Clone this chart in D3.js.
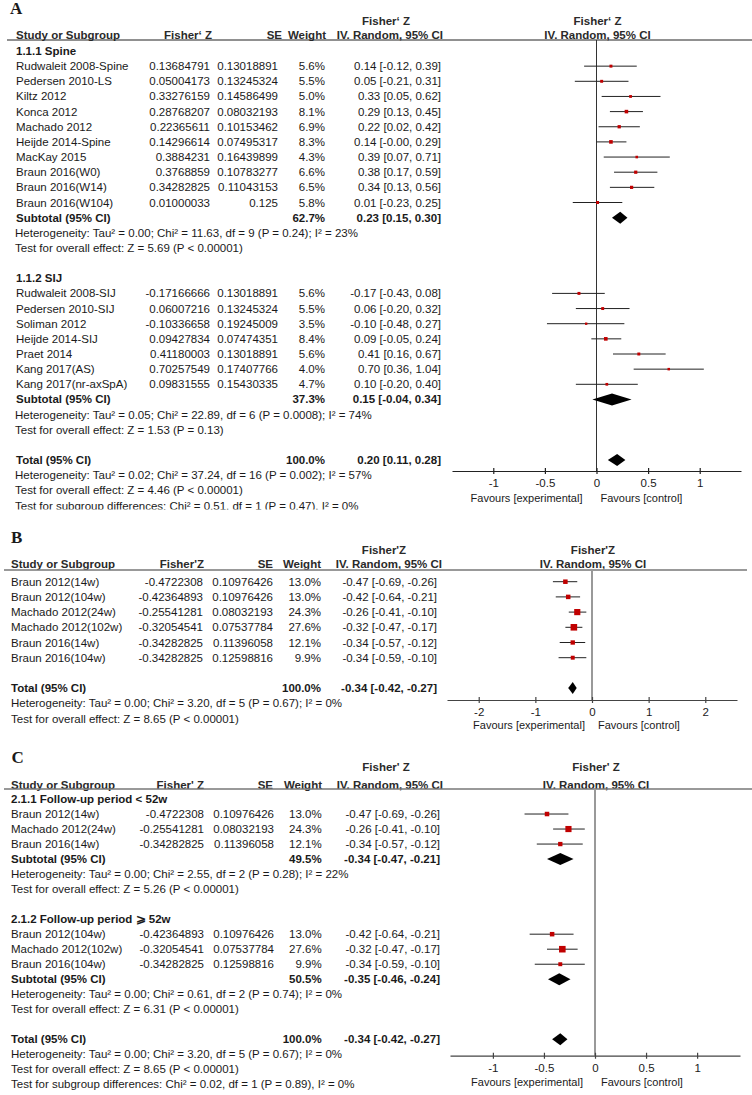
<!DOCTYPE html>
<html>
<head>
<meta charset="utf-8">
<script src="https://cdn.jsdelivr.net/npm/d3@7/dist/d3.min.js"></script>
<style>
  body { margin: 0; background: #fff; }
  svg { display: block; }
  text { font-family: "Liberation Sans", Arial, sans-serif; font-size: 11.5px; fill: #1a1a1a; }
  .b { font-weight: bold; }
  .plabel { font-family: "Liberation Serif", "Times New Roman", serif; font-size: 17px; font-weight: bold; }
</style>
</head>
<body>
<script>
// ---- Panel A : 1.1.1 Spine ----
const spineNames = ["Rudwaleit 2008-Spine", "Pedersen 2010-LS", "Kiltz 2012", "Konca 2012", "Machado 2012",
  "Heijde 2014-Spine", "MacKay 2015", "Braun 2016(W0)", "Braun 2016(W14)", "Braun 2016(W104)"];
const spineZ = ["0.13684791", "0.05004173", "0.33276159", "0.28768207", "0.22365611",
  "0.14296614", "0.3884231", "0.3768859", "0.34282825", "0.01000033"];
const spineSE = ["0.13018891", "0.13245324", "0.14586499", "0.08032193", "0.10153462",
  "0.07495317", "0.16439899", "0.10783277", "0.11043153", "0.125"];
const spineWeight = [5.6, 5.5, 5.0, 8.1, 6.9, 8.3, 4.3, 6.6, 6.5, 5.8];
const spineEst = [0.14, 0.05, 0.33, 0.29, 0.22, 0.14, 0.39, 0.38, 0.34, 0.01];
const spineLo = [-0.12, -0.21, 0.05, 0.13, 0.02, -0.00, 0.07, 0.17, 0.13, -0.23];
const spineHi = [0.39, 0.31, 0.62, 0.45, 0.42, 0.29, 0.71, 0.59, 0.56, 0.25];
const spinePooled = [62.7, 0.23, 0.15, 0.30];
const spineNotes = ["Heterogeneity: Tau² = 0.00; Chi² = 11.63, df = 9 (P = 0.24); I² = 23%",
  "Test for overall effect: Z = 5.69 (P < 0.00001)"];

// ---- Panel A : 1.1.2 SIJ ----
const sijNames = ["Rudwaleit 2008-SIJ", "Pedersen 2010-SIJ", "Soliman 2012", "Heijde 2014-SIJ",
  "Praet 2014", "Kang 2017(AS)", "Kang 2017(nr-axSpA)"];
const sijZ = ["-0.17166666", "0.06007216", "-0.10336658", "0.09427834", "0.41180003", "0.70257549", "0.09831555"];
const sijSE = ["0.13018891", "0.13245324", "0.19245009", "0.07474351", "0.13018891", "0.17407766", "0.15430335"];
const sijWeight = [5.6, 5.5, 3.5, 8.4, 5.6, 4.0, 4.7];
const sijEst = [-0.17, 0.06, -0.10, 0.09, 0.41, 0.70, 0.10];
const sijLo = [-0.43, -0.20, -0.48, -0.05, 0.16, 0.36, -0.20];
const sijHi = [0.08, 0.32, 0.27, 0.24, 0.67, 1.04, 0.40];
const sijPooled = [37.3, 0.15, -0.04, 0.34];
const sijNotes = ["Heterogeneity: Tau² = 0.05; Chi² = 22.89, df = 6 (P = 0.0008); I² = 74%",
  "Test for overall effect: Z = 1.53 (P = 0.13)"];

const totalAPooled = [100.0, 0.20, 0.11, 0.28];
const totalANotes = ["Heterogeneity: Tau² = 0.02; Chi² = 37.24, df = 16 (P = 0.002); I² = 57%",
  "Test for overall effect: Z = 4.46 (P < 0.00001)",
  "Test for subgroup differences: Chi² = 0.51, df = 1 (P = 0.47), I² = 0%"];

// ---- Panel B / C : follow-up studies ----
const fuNames = ["Braun 2012(14w)", "Braun 2012(104w)", "Machado 2012(24w)", "Machado 2012(102w)",
  "Braun 2016(14w)", "Braun 2016(104w)"];
const fuZ = ["-0.4722308", "-0.42364893", "-0.25541281", "-0.32054541", "-0.34282825", "-0.34282825"];
const fuSE = ["0.10976426", "0.10976426", "0.08032193", "0.07537784", "0.11396058", "0.12598816"];
const fuWeight = [13.0, 13.0, 24.3, 27.6, 12.1, 9.9];
const fuEst = [-0.47, -0.42, -0.26, -0.32, -0.34, -0.34];
const fuLo = [-0.69, -0.64, -0.41, -0.47, -0.57, -0.59];
const fuHi = [-0.26, -0.21, -0.10, -0.17, -0.12, -0.10];
const fuTotalPooled = [100.0, -0.34, -0.42, -0.27];
const fuTotalNotes = ["Heterogeneity: Tau² = 0.00; Chi² = 3.20, df = 5 (P = 0.67); I² = 0%",
  "Test for overall effect: Z = 8.65 (P < 0.00001)"];

// panel C subgroups (indices into the follow-up arrays)
const shortIdx = [0, 2, 4];
const longIdx = [1, 3, 5];
const shortPooled = [49.5, -0.34, -0.47, -0.21];
const shortNotes = ["Heterogeneity: Tau² = 0.00; Chi² = 2.55, df = 2 (P = 0.28); I² = 22%",
  "Test for overall effect: Z = 5.26 (P < 0.00001)"];
const longPooled = [50.5, -0.35, -0.46, -0.24];
const longNotes = ["Heterogeneity: Tau² = 0.00; Chi² = 0.61, df = 2 (P = 0.74); I² = 0%",
  "Test for overall effect: Z = 6.31 (P < 0.00001)"];
const subgroupNoteC = "Test for subgroup differences: Chi² = 0.02, df = 1 (P = 0.89), I² = 0%";

const ticksA = [-1, -0.5, 0, 0.5, 1];
const ticksB = [-2, -1, 0, 1, 2];
const ticksC = [-1, -0.5, 0, 0.5, 1];

// ---------------------------------------------------------------
const width = 752, height = 1095;

const svg = d3.select("body").append("svg")
  .attr("width", width)
  .attr("height", height);
const defs = svg.append("defs");

// -0.00 keeps its sign, like RevMan prints it
const fmt2 = v => ((v < 0 || Object.is(v, -0)) ? "-" : "") + Math.abs(v).toFixed(2);
const ciText = (e, l, h) => `${fmt2(e)} [${fmt2(l)}, ${fmt2(h)}]`;

function studies(names, z, se, w, est, lo, hi, idx) {
  idx = idx || names.map((d, i) => i);
  return idx.map(i => ({ type: "study", name: names[i], z: z[i], se: se[i], w: w[i], est: est[i], lo: lo[i], hi: hi[i] }));
}
const pooled = (label, p) => ({ type: "pooled", name: label, w: p[0], est: p[1], lo: p[2], hi: p[3] });
const notes = arr => arr.map(t => ({ type: "note", name: t }));
const blank = { type: "blank" };
const group = t => ({ type: "group", name: t });

const rowsA = [
  group("1.1.1 Spine"),
  ...studies(spineNames, spineZ, spineSE, spineWeight, spineEst, spineLo, spineHi),
  pooled("Subtotal (95% CI)", spinePooled),
  ...notes(spineNotes),
  blank,
  group("1.1.2 SIJ"),
  ...studies(sijNames, sijZ, sijSE, sijWeight, sijEst, sijLo, sijHi),
  pooled("Subtotal (95% CI)", sijPooled),
  ...notes(sijNotes),
  blank,
  pooled("Total (95% CI)", totalAPooled),
  ...notes(totalANotes)
];

const rowsB = [
  ...studies(fuNames, fuZ, fuSE, fuWeight, fuEst, fuLo, fuHi),
  blank,
  pooled("Total (95% CI)", fuTotalPooled),
  ...notes(fuTotalNotes)
];

const rowsC = [
  group("2.1.1 Follow-up period < 52w"),
  ...studies(fuNames, fuZ, fuSE, fuWeight, fuEst, fuLo, fuHi, shortIdx),
  pooled("Subtotal (95% CI)", shortPooled),
  ...notes(shortNotes),
  blank,
  group("2.1.2 Follow-up period \u2A7E 52w"),
  ...studies(fuNames, fuZ, fuSE, fuWeight, fuEst, fuLo, fuHi, longIdx),
  pooled("Subtotal (95% CI)", longPooled),
  ...notes(longNotes),
  blank,
  pooled("Total (95% CI)", fuTotalPooled),
  ...notes(fuTotalNotes),
  { type: "note", name: subgroupNoteC }
];

function drawPanel(p) {
  defs.append("clipPath").attr("id", p.id + "-clip")
    .append("rect").attr("x", 0).attr("y", p.clip[0]).attr("width", width).attr("height", p.clip[1] - p.clip[0]);
  const g = svg.append("g").attr("clip-path", `url(#${p.id}-clip)`);

  const x = d3.scaleLinear().domain(p.domain).range(p.range);
  const y = i => p.rowY0 + i * p.rowDy;
  const c = p.cols;

  g.append("text").attr("class", "plabel").attr("x", p.labelPos[0]).attr("y", p.labelPos[1]).text(p.label);

  // header
  const hdr = (txt, xx, yy, anchor) => g.append("text").attr("class", "b")
    .attr("x", xx).attr("y", yy).attr("dominant-baseline", "central")
    .attr("text-anchor", anchor).style("fill", "#2a2a2a").text(txt);
  hdr("Study or Subgroup", c.name, p.hdrY[1], "start");
  hdr(p.zTitle, c.zHdr, p.hdrY[1], "end");
  hdr("SE", c.seHdr, p.hdrY[1], "end");
  hdr("Weight", c.wHdr, p.hdrY[1], "end");
  hdr(p.zTitle, c.ciMid, p.hdrY[0], "middle");
  hdr("IV. Random, 95% CI", c.ciHdr, p.hdrY[1], "end");
  hdr(p.zTitle, x(0) + 1, p.hdrY[0], "middle");
  hdr("IV. Random, 95% CI", x(0) + 1, p.hdrY[1], "middle");

  g.append("line").attr("x1", p.ruleX[0]).attr("x2", p.ruleX[1])
    .attr("y1", p.ruleY).attr("y2", p.ruleY)
    .attr("stroke", p.ruleColor).attr("stroke-width", p.ruleWidth);

  // zero line
  g.append("line").attr("x1", x(0)).attr("x2", x(0))
    .attr("y1", p.ruleY).attr("y2", p.axisY)
    .attr("stroke", p.zeroColor).attr("stroke-width", p.zeroWidth);

  p.rows.forEach((r, i) => {
    const yy = y(i);
    if (r.type === "blank") return;
    const t = (txt, xx, anchor, bold) => g.append("text")
      .attr("class", bold ? "b" : null)
      .attr("x", xx).attr("y", yy).attr("dominant-baseline", "central")
      .attr("text-anchor", anchor).text(txt);

    if (r.type === "group") { t(r.name, c.name, "start", true); return; }
    if (r.type === "note") { t(r.name, c.note, "start", false); return; }

    const bold = r.type === "pooled";
    t(r.name, c.name, "start", bold);
    if (r.type === "study") {
      t(r.z, c.z, "end", false);
      t(r.se, c.se, "end", false);
    }
    t(r.w.toFixed(1) + "%", c.w, "end", bold);
    t(ciText(r.est, r.lo, r.hi), c.ci, "end", bold);

    if (r.type === "study") {
      g.append("line").attr("x1", x(r.lo)).attr("x2", x(r.hi))
        .attr("y1", yy).attr("y2", yy)
        .attr("stroke", "#222").attr("stroke-width", 1);
      const s = 1.25 * Math.sqrt(r.w);
      g.append("rect").attr("x", x(r.est) - s / 2).attr("y", yy - s / 2)
        .attr("width", s).attr("height", s).attr("fill", "#c00000");
    } else {
      const hh = 6;
      g.append("polygon")
        .attr("points", [[x(r.lo), yy], [x(r.est), yy - hh], [x(r.hi), yy], [x(r.est), yy + hh]].join(" "))
        .attr("fill", "#000");
    }
  });

  // axis
  const ax = g.append("g").attr("transform", `translate(0,${p.axisY})`)
    .call(d3.axisBottom(x).tickValues(p.ticks).tickFormat(d => String(d)).tickSizeInner(3).tickSizeOuter(0));
  ax.select(".domain").attr("stroke", p.axisColor).attr("stroke-width", 1.2);
  ax.selectAll(".tick line").attr("y1", -3).attr("y2", 3).attr("stroke", p.axisColor).attr("stroke-width", 1.2);
  ax.selectAll(".tick text").attr("y", p.tickLabelDy).attr("dy", "0.35em")
    .style("font-family", "'Liberation Sans', Arial, sans-serif").style("font-size", "11.5px").style("fill", "#1a1a1a");

  g.append("text").attr("x", x(0) + p.favOffset[0]).attr("y", p.axisY + p.favDy)
    .attr("dominant-baseline", "central").attr("text-anchor", "end")
    .style("font-size", "11px").text("Favours [experimental]");
  g.append("text").attr("x", x(0) + p.favOffset[1]).attr("y", p.axisY + p.favDy)
    .attr("dominant-baseline", "central").attr("text-anchor", "start")
    .style("font-size", "11px").text("Favours [control]");
}

drawPanel({
  id: "A", label: "A", labelPos: [10, 13.5], clip: [0, 509.5],
  rows: rowsA, rowY0: 51, rowDy: 15.15,
  zTitle: "Fisher\u2018 Z", hdrY: [20.6, 35], ruleY: 40, ruleX: [7, 752], ruleColor: "#222", ruleWidth: 1,
  cols: { name: 16, note: 15, z: 210, se: 278, w: 325, ci: 441, zHdr: 212, seHdr: 282, wHdr: 326, ciHdr: 443, ciMid: 386 },
  domain: [-1.4, 1.4], range: [452, 741], ticks: ticksA,
  axisY: 471, axisColor: "#222", zeroColor: "#333", zeroWidth: 1,
  tickLabelDy: 12, favDy: 27, favOffset: [-14, 4]
});

drawPanel({
  id: "B", label: "B", labelPos: [11, 542.7], clip: [512, 745],
  rows: rowsB, rowY0: 581.7, rowDy: 15.2,
  zTitle: "Fisher'Z", hdrY: [550, 564.3], ruleY: 570, ruleX: [4, 747], ruleColor: "#777", ruleWidth: 1.5,
  cols: { name: 11, note: 11, z: 203, se: 273, w: 321, ci: 437, zHdr: 204, seHdr: 273, wHdr: 321, ciHdr: 442, ciMid: 384 },
  domain: [-2.56, 2.56], range: [447, 737], ticks: ticksB,
  axisY: 700, axisColor: "#444", zeroColor: "#999", zeroWidth: 2,
  tickLabelDy: 11.7, favDy: 25, favOffset: [-7, 6]
});

drawPanel({
  id: "C", label: "C", labelPos: [11.5, 763], clip: [745, 1090.5],
  rows: rowsC, rowY0: 799, rowDy: 15.02,
  zTitle: "Fisher' Z", hdrY: [766.7, 784.5], ruleY: 789, ruleX: [4, 752], ruleColor: "#777", ruleWidth: 1.5,
  cols: { name: 11, note: 11, z: 204, se: 274, w: 321.7, ci: 440, zHdr: 204, seHdr: 273, wHdr: 322, ciHdr: 443, ciMid: 386 },
  domain: [-1.42, 1.42], range: [450, 740], ticks: ticksC,
  axisY: 1055.7, axisColor: "#444", zeroColor: "#999", zeroWidth: 2,
  tickLabelDy: 12, favDy: 26.6, favOffset: [-12, 6]
});
</script>
</body>
</html>
